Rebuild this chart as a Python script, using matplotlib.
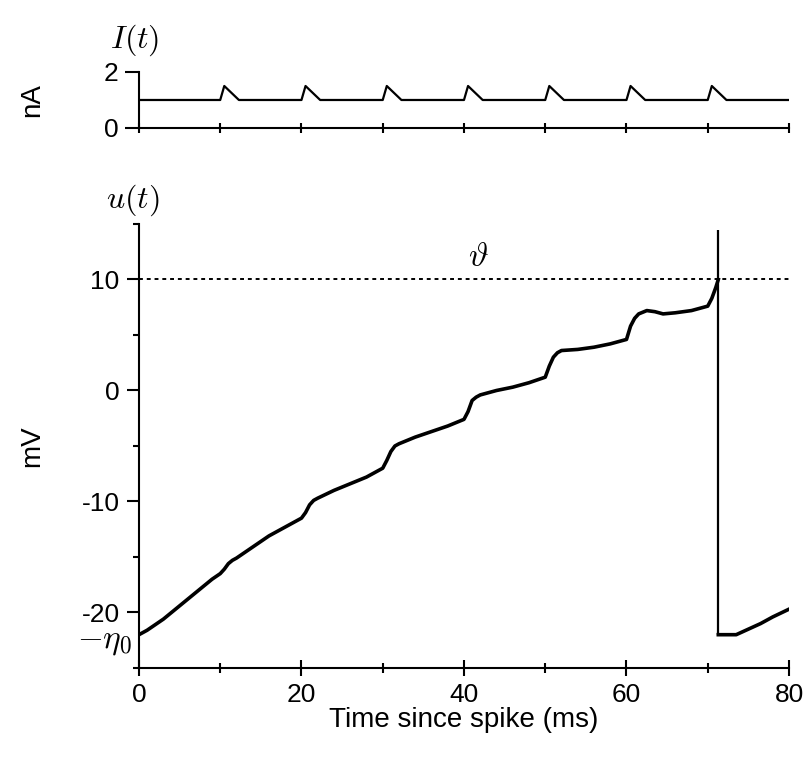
import numpy as np
import matplotlib
matplotlib.use('Agg')
import matplotlib.pyplot as plt
from matplotlib.ticker import MultipleLocator

plt.rcParams['font.family'] = ['Liberation Sans', 'DejaVu Sans']
plt.rcParams['mathtext.fontset'] = 'cm'
plt.rcParams['axes.unicode_minus'] = False

# Corrente de entrada I(t) (nA)
t_I = [0, 10, 10.5, 12.3, 20, 20.5, 22.3, 30, 30.5, 32.3, 40, 40.5, 42.3,
       50, 50.5, 52.3, 60, 60.5, 62.3, 70, 70.5, 72.3, 80]
I = [1.0, 1.0, 1.5, 1.0, 1.0, 1.5, 1.0, 1.0, 1.5, 1.0, 1.0, 1.5, 1.0,
     1.0, 1.5, 1.0, 1.0, 1.5, 1.0, 1.0, 1.5, 1.0, 1.0]

# Potencial de membrana u(t) antes do disparo (mV)
t_u = [0, 1, 2, 3, 4, 5, 6, 7, 8, 9, 10, 10.5, 11, 11.5, 12, 14, 16, 18,
       20, 20.5, 21, 21.5, 22, 24, 26, 28, 30, 30.5, 31, 31.5, 32, 34, 36, 38,
       40, 40.5, 41, 41.5, 42, 44, 46, 48, 50, 50.5, 51, 51.5, 52, 54, 56, 58,
       60, 60.5, 61, 61.5, 62.5, 63.5, 64.5, 66, 68, 70, 70.5, 71, 71.3]
u = [-22.0, -21.6, -21.1, -20.6, -20.0, -19.4, -18.8, -18.2, -17.6, -17.0,
     -16.5, -16.1, -15.6, -15.3, -15.1, -14.1, -13.1, -12.3,
     -11.5, -11.0, -10.3, -9.9, -9.7, -9.0, -8.4, -7.8,
     -7.0, -6.3, -5.5, -5.0, -4.8, -4.2, -3.7, -3.2,
     -2.6, -1.9, -0.9, -0.6, -0.4, 0.0, 0.3, 0.7,
     1.2, 2.2, 3.0, 3.4, 3.6, 3.7, 3.9, 4.2,
     4.6, 5.8, 6.5, 6.9, 7.2, 7.1, 6.9, 7.0, 7.2, 7.6, 8.3, 9.3, 10.0]

# Depois do disparo
t_reset = [71.3, 73.5, 75, 76.5, 78, 80]
u_reset = [-22.0, -22.0, -21.5, -21.0, -20.4, -19.7]

t_spike = 71.3
spike_top = 14.5
theta = 10
eta0 = -22.0

fig = plt.figure(figsize=(8.07, 7.65), dpi=100)

# Grafico 1 - corrente
ax1 = fig.add_axes([0.1722, 0.8327, 0.8055, 0.0732])
ax1.plot(t_I, I, color='black', linewidth=1.6)
ax1.set_xlim(0, 80)
ax1.set_ylim(0, 2)
ax1.set_yticks([0, 2])
ax1.set_xticks(np.arange(0, 81, 10))
ax1.set_xticklabels([])
ax1.tick_params(axis='x', direction='inout', length=7, width=1.5)
ax1.tick_params(axis='y', direction='out', length=10, width=1.5, labelsize=19, pad=5)
for s in ['top', 'right']:
    ax1.spines[s].set_visible(False)
for s in ['left', 'bottom']:
    ax1.spines[s].set_linewidth(1.5)

# Grafico 2 - potencial
ax2 = fig.add_axes([0.1722, 0.1268, 0.8055, 0.5804])
ax2.plot(t_u, u, color='black', linewidth=2.6)
ax2.plot(t_reset, u_reset, color='black', linewidth=2.6)
ax2.vlines(t_spike, eta0, spike_top, color='black', linewidth=1.6)
ax2.axhline(theta, color='black', linewidth=1.4, linestyle=(0, (2, 2)))
ax2.set_xlim(0, 80)
ax2.set_ylim(-25, 15)
ax2.xaxis.set_major_locator(MultipleLocator(20))
ax2.xaxis.set_minor_locator(MultipleLocator(10))
ax2.yaxis.set_major_locator(MultipleLocator(10))
ax2.yaxis.set_minor_locator(MultipleLocator(5))
ax2.set_yticks([-20, -10, 0, 10])
ax2.tick_params(axis='x', which='major', direction='inout', length=11, width=1.5,
                labelsize=19, pad=5)
ax2.tick_params(axis='x', which='minor', direction='inout', length=7, width=1.5)
ax2.tick_params(axis='y', which='major', direction='out', length=9, width=1.5,
                labelsize=19, pad=5)
ax2.tick_params(axis='y', which='minor', direction='out', length=4.5, width=1.5)
for s in ['top', 'right']:
    ax2.spines[s].set_visible(False)
for s in ['left', 'bottom']:
    ax2.spines[s].set_linewidth(1.5)

ax2.text(41.8, 12.0, r'$\vartheta$', fontsize=24, ha='center', va='center')
ax2.text(-0.9, -22.6, r'$-\eta_0$', fontsize=24, ha='right', va='center', clip_on=False)

# Textos da figura
fig.text(135 / 807, 1 - 40 / 765, r'$I(t)$', fontsize=23, ha='center', va='center')
fig.text(133 / 807, 1 - 200 / 765, r'$u(t)$', fontsize=23, ha='center', va='center')
fig.text(32 / 807, 1 - 100 / 765, 'nA', fontsize=20, rotation=90, ha='center', va='center')
fig.text(32 / 807, 1 - 446 / 765, 'mV', fontsize=20, rotation=90, ha='center', va='center')
fig.text(464 / 807, 1 - 720 / 765, 'Time since spike (ms)', fontsize=20,
         ha='center', va='center')

fig.savefig('out.png', dpi=100)
